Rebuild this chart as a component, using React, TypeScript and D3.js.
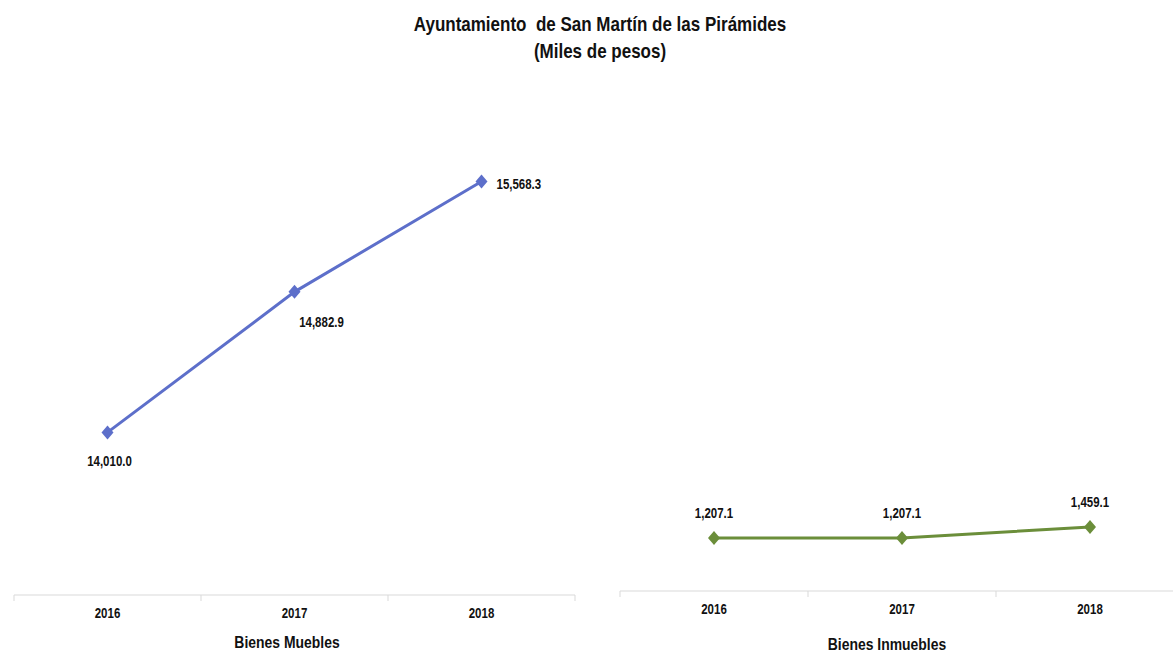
import React from "react";
import * as d3 from "d3";

const years = ["2016", "2017", "2018"];
const muebles = [14010.0, 14882.9, 15568.3];
const inmuebles = [1207.1, 1207.1, 1459.1];
const titleLines = ["Ayuntamiento  de San Martín de las Pirámides", "(Miles de pesos)"];

const FONT = "'Liberation Sans', Arial, sans-serif";
const SX = 0.82;
const fmt = d3.format(",.1f");

function NText({ x, y, size, anchor = "middle", sx = SX, children }: any) {
  return (
    <text
      transform={`translate(${x},${y}) scale(${sx},1)`}
      textAnchor={anchor}
      fontSize={size}
      fontWeight="bold"
      fill="#111"
      style={{ whiteSpace: "pre" }}
    >
      {children}
    </text>
  );
}

const diamondPath = (w: number, h: number) => `M0,${-h / 2}L${w / 2},0L0,${h / 2}L${-w / 2},0Z`;

export default function App() {
  const W = 1173, H = 653;

  const xL = d3.scaleBand().domain(years).range([14, 575]);
  const yL = d3.scaleLinear().domain([13000, 16000]).range([595, 112]);
  const xR = d3.scaleBand().domain(years).range([620, 1184]);
  const yR = d3.scaleLinear().domain([0, 11000]).range([591, 108]);

  const diamond = diamondPath(12, 14);

  const lineL = d3.line<number>().x((_, i) => xL(years[i])! + xL.bandwidth() / 2).y((d) => yL(d));
  const lineR = d3.line<number>().x((_, i) => xR(years[i])! + xR.bandwidth() / 2).y((d) => yR(d));

  const labelOffL = [
    { dx: 2, dy: 34, anchor: "middle" },
    { dx: 27, dy: 35, anchor: "middle" },
    { dx: 15, dy: 7, anchor: "start" },
  ];

  const axis = (x: d3.ScaleBand<string>, y0: number, x0: number, x1: number) => {
    const ticks = [...years.map((c) => x(c)!), x(years[2])! + x.bandwidth()];
    return (
      <g>
        <line x1={x0} x2={x1} y1={y0} y2={y0} stroke="#d9d9d9" strokeWidth={1.2} />
        {ticks.map((t, i) => (
          <line key={i} x1={t} x2={t} y1={y0} y2={y0 + 6} stroke="#d9d9d9" strokeWidth={1} />
        ))}
        {years.map((c) => (
          <NText key={c} x={x(c)! + x.bandwidth() / 2} y={y0 + 23} size={14}>
            {c}
          </NText>
        ))}
      </g>
    );
  };

  return (
    <svg width={W} height={H} style={{ position: "absolute", left: 0, top: 0, background: "#fff" }} fontFamily={FONT}>
      <rect width={W} height={H} fill="#fff" />
      {titleLines.map((t, i) => (
        <NText key={i} x={600} y={31 + i * 27} size={21} sx={0.81}>
          {t}
        </NText>
      ))}

      {/* Left chart */}
      {axis(xL, 595, 14, 575)}
      <NText x={287} y={648} size={17}>Bienes Muebles</NText>
      <path d={lineL(muebles)!} fill="none" stroke="#5d6fca" strokeWidth={3} />
      {muebles.map((v, i) => {
        const cx = xL(years[i])! + xL.bandwidth() / 2;
        const cy = yL(v);
        const o = labelOffL[i];
        return (
          <g key={i}>
            <path d={diamond} transform={`translate(${cx},${cy})`} fill="#5d6fca" />
            <NText x={cx + o.dx} y={cy + o.dy} size={14} anchor={o.anchor}>
              {fmt(v)}
            </NText>
          </g>
        );
      })}

      {/* Right chart */}
      {axis(xR, 591, 620, 1173)}
      <NText x={887} y={650} size={17}>Bienes Inmuebles</NText>
      <path d={lineR(inmuebles)!} fill="none" stroke="#6b8e3a" strokeWidth={3} />
      {inmuebles.map((v, i) => {
        const cx = xR(years[i])! + xR.bandwidth() / 2;
        const cy = yR(v);
        return (
          <g key={i}>
            <path d={diamond} transform={`translate(${cx},${cy})`} fill="#6b8e3a" />
            <NText x={cx} y={cy - 20} size={14}>
              {fmt(v)}
            </NText>
          </g>
        );
      })}
    </svg>
  );
}
